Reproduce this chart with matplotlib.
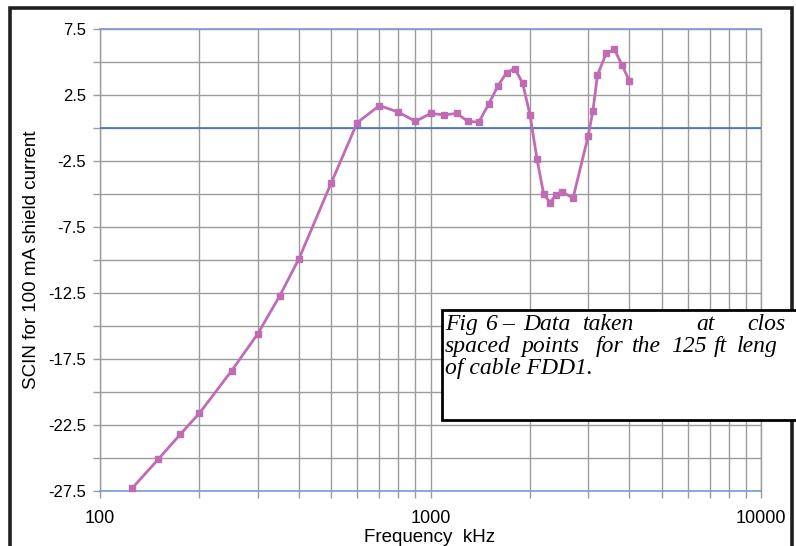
import matplotlib
matplotlib.use("Agg")
import matplotlib.pyplot as plt
from matplotlib.patches import Rectangle
from matplotlib.ticker import FixedLocator, NullFormatter

# frequency (kHz) and SCIN for 100 mA shield current
freq_khz = [125, 150, 175, 200, 250, 300, 350, 400, 500, 600, 700, 800, 900,
            1000, 1100, 1200, 1300, 1400, 1500, 1600, 1700, 1800, 1900, 2000,
            2100, 2200, 2300, 2400, 2500, 2700, 3000, 3100, 3200, 3400, 3600,
            3800, 4000]
scin = [-27.3, -25.1, -23.2, -21.6, -18.4, -15.6, -12.7, -9.9, -4.2, 0.4, 1.7,
        1.2, 0.5, 1.1, 1.0, 1.1, 0.5, 0.45, 1.8, 3.2, 4.2, 4.5, 3.4, 1.0,
        -2.35, -5.0, -5.65, -5.05, -4.85, -5.3, -0.6, 1.3, 4.0, 5.65, 5.95,
        4.75, 3.55]

y_major = [-27.5, -22.5, -17.5, -12.5, -7.5, -2.5, 2.5, 7.5]
y_minor = [-25, -20, -15, -10, -5, 0, 5]
x_major = [100, 1000, 10000]
x_minor = [m * d for d in (100, 1000) for m in range(2, 10)]

caption_line1 = ["Fig", "6", "\u2013", "Data", "taken", "at", "clos"]
caption_line2 = ["spaced", "points", "for", "the", "125", "ft", "leng"]
caption_line3 = "of cable FDD1."

W, H = 796, 546
fig = plt.figure(figsize=(W / 100, H / 100), dpi=100)
fig.patch.set_facecolor("white")

def fx(px):
    return px / W

def fy(py):
    return 1 - py / H

ax = fig.add_axes([fx(100), fy(491), fx(761) - fx(100), fy(29) - fy(491)])
line_col = "#C06CB4"
grid_col = "#9C9C9C"
blue = "#4472C4"

ax.plot(freq_khz, scin, color=line_col, lw=2.0, marker="s", ms=4.6,
        mfc=line_col, mec=line_col, zorder=5, clip_on=False)

ax.set_xscale("log")
ax.set_xlim(100, 10000)
ax.set_ylim(-27.5, 7.5)

ax.xaxis.set_major_locator(FixedLocator(x_major))
ax.xaxis.set_minor_locator(FixedLocator(x_minor))
ax.xaxis.set_minor_formatter(NullFormatter())
ax.set_xticklabels([str(v) for v in x_major])
ax.yaxis.set_major_locator(FixedLocator(y_major))
ax.yaxis.set_minor_locator(FixedLocator(y_minor))
ax.set_yticklabels([str(v) for v in y_major])

ax.grid(True, which="both", color=grid_col, lw=1.0)
ax.axhline(0, color=blue, lw=1.2, zorder=3)

for side in ("top", "bottom"):
    ax.spines[side].set_color("#7A9AD6")
    ax.spines[side].set_linewidth(1.2)
for side in ("left", "right"):
    ax.spines[side].set_color(grid_col)
    ax.spines[side].set_linewidth(1.0)

ax.tick_params(axis="both", which="both", direction="out", length=5,
               color=grid_col, width=1)
ax.tick_params(axis="x", which="major", pad=9, labelsize=13)
ax.tick_params(axis="y", which="major", pad=5, labelsize=12)
for lab in ax.get_xticklabels() + ax.get_yticklabels():
    lab.set_family("Liberation Sans")
    lab.set_color("black")

fig.text(fx(430), fy(538), "Frequency  kHz", ha="center", va="center",
         fontsize=13.5, family="Liberation Sans")
fig.text(fx(32), fy(260), "SCIN for 100 mA shield current", ha="center",
         va="center", rotation=90, fontsize=13.5, family="Liberation Sans")

# outer frame
fig.add_artist(Rectangle((fx(10), -0.05), fx(792) - fx(10), fy(8) + 0.05,
                         transform=fig.transFigure, fill=False,
                         edgecolor="#202020", lw=2.6, zorder=8))

# caption box
fig.add_artist(Rectangle((fx(442), fy(420)), 1.1 - fx(442), fy(310) - fy(420),
                         transform=fig.transFigure, facecolor="white",
                         edgecolor="black", lw=2.0, zorder=9))

cap_font = dict(family="Liberation Serif", style="italic", fontsize=17,
                zorder=10, va="baseline", ha="left")
x1 = [445, 485, 502, 523, 583, 696, 747]
for word, px in zip(caption_line1, x1):
    fig.text(fx(px), fy(330), word, **cap_font)
x2 = [445, 521, 596, 632, 671, 714, 737]
for word, px in zip(caption_line2, x2):
    fig.text(fx(px), fy(352), word, **cap_font)
fig.text(fx(445), fy(374), caption_line3, **cap_font)

fig.savefig("out.png", dpi=100)
